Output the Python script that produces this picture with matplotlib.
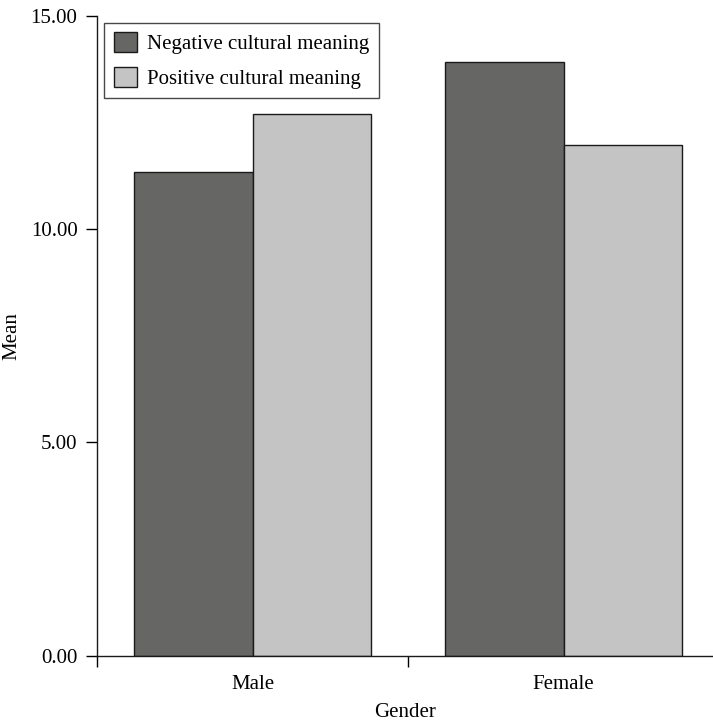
import numpy as np
import matplotlib
matplotlib.use('Agg')
from matplotlib import pyplot as plt

# Datos
genders = ['Male', 'Female']
negative = [11.34, 13.92]
positive = [12.70, 11.98]
series_names = ['Negative cultural meaning', 'Positive cultural meaning']
yticks = [0, 5, 10, 15]

plt.rcParams['font.family'] = ['Liberation Serif', 'DejaVu Serif']
plt.rcParams['font.size'] = 15

fig = plt.figure(figsize=(7.13, 7.23), dpi=100)
ax = fig.add_axes([0.136, 0.093, 0.864, 0.885])

x = np.arange(len(genders))
w = 0.38
ax.bar(x - w / 2, negative, w, color='#666664', edgecolor='#1a1a1a', linewidth=1.0,
       label=series_names[0])
ax.bar(x + w / 2, positive, w, color='#c3c4c3', edgecolor='#1a1a1a', linewidth=1.0,
       label=series_names[1])

ax.set_xlim(-0.5, 1.48)
ax.set_ylim(0, 15)
ax.set_yticks(yticks)
ax.set_yticklabels(['%.2f' % v for v in yticks])
ax.set_xticks(x)
ax.set_xticklabels(genders)
ax.set_xticks([-0.5, 0.5], minor=True)
ax.tick_params(axis='x', which='major', length=0, pad=14)
ax.tick_params(axis='x', which='minor', length=8, width=1, direction='out')
ax.tick_params(axis='y', length=8, width=1, direction='out', pad=6)

for s in ['top', 'right']:
    ax.spines[s].set_visible(False)
for s in ['left', 'bottom']:
    ax.spines[s].set_linewidth(1.0)
    ax.spines[s].set_color('#1a1a1a')

ax.set_xlabel('Gender', labelpad=6)
ax.set_ylabel('Mean')
ax.yaxis.set_label_coords(-0.122, 0.5)

leg = ax.legend(loc='upper left', bbox_to_anchor=(0.012, 0.989), frameon=True, fancybox=False,
                edgecolor='#1a1a1a', handlelength=1.1, handleheight=1.1,
                borderpad=0.45, labelspacing=0.6, handletextpad=0.5, borderaxespad=0.0)
leg.get_frame().set_linewidth(1.0)

fig.savefig('out.png', dpi=100)
